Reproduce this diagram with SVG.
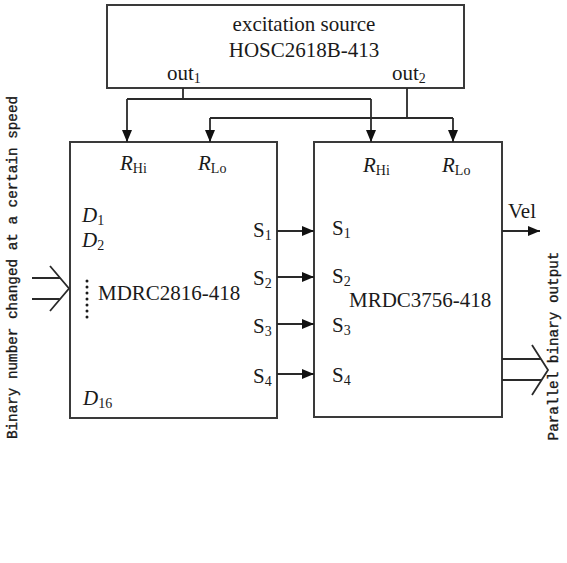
<svg xmlns="http://www.w3.org/2000/svg" width="567" height="563" viewBox="0 0 567 563">
<style>
.box{fill:#fff;stroke:#3a3a3a;stroke-width:2}
.ln{fill:none;stroke:#2a2a2a;stroke-width:1.8}
.t{font-family:"Liberation Serif","Times New Roman",serif;font-size:21px;fill:#1a1a1a}
.i{font-style:italic}
.sub{font-size:14px}
.side{font-family:"Liberation Mono","Courier New",monospace;font-size:14.3px;fill:#1a1a1a;stroke:#1a1a1a;stroke-width:0.35}
</style>
<defs>
<marker id="ah" markerUnits="userSpaceOnUse" markerWidth="13" markerHeight="11" refX="12" refY="5" orient="auto">
<path d="M0,0 L12,5 L0,10 z" fill="#111"/>
</marker>
</defs>
<rect width="567" height="563" fill="#fff"/>
<g id="source">
<rect class="box" x="107" y="5" width="357" height="83"/>
<text class="t" x="304" y="31" text-anchor="middle">excitation source</text>
<text class="t" x="304" y="57" text-anchor="middle">HOSC2618B-413</text>
<text class="t" x="167" y="80">out<tspan class="sub" dy="3">1</tspan></text>
<text class="t" x="392" y="80">out<tspan class="sub" dy="3">2</tspan></text>
</g>
<g id="mdrc">
<rect class="box" x="70" y="142" width="207" height="276"/>
<text class="t" x="120" y="170"><tspan class="i">R</tspan><tspan class="sub" dy="3">Hi</tspan></text>
<text class="t" x="198" y="170"><tspan class="i">R</tspan><tspan class="sub" dy="3">Lo</tspan></text>
<text class="t" x="82" y="222"><tspan class="i">D</tspan><tspan class="sub" dy="3">1</tspan></text>
<text class="t" x="82" y="247"><tspan class="i">D</tspan><tspan class="sub" dy="3">2</tspan></text>
<text class="t" x="83" y="405"><tspan class="i">D</tspan><tspan class="sub" dy="3">16</tspan></text>
<g fill="#1a1a1a">
<circle cx="87" cy="281" r="1.5"/><circle cx="87" cy="287" r="1.5"/><circle cx="87" cy="293" r="1.5"/><circle cx="87" cy="299" r="1.5"/><circle cx="87" cy="305" r="1.5"/><circle cx="87" cy="311" r="1.5"/><circle cx="87" cy="317" r="1.5"/>
</g>
<text class="t" x="98" y="300">MDRC2816-418</text>
<text class="t" x="253" y="237">S<tspan class="sub" dy="3">1</tspan></text>
<text class="t" x="253" y="285">S<tspan class="sub" dy="3">2</tspan></text>
<text class="t" x="253" y="333">S<tspan class="sub" dy="3">3</tspan></text>
<text class="t" x="253" y="383">S<tspan class="sub" dy="3">4</tspan></text>
</g>
<g id="mrdc">
<rect class="box" x="314" y="142" width="188" height="275"/>
<text class="t" x="363" y="172"><tspan class="i">R</tspan><tspan class="sub" dy="3">Hi</tspan></text>
<text class="t" x="442" y="172"><tspan class="i">R</tspan><tspan class="sub" dy="3">Lo</tspan></text>
<text class="t" x="332" y="235">S<tspan class="sub" dy="3">1</tspan></text>
<text class="t" x="332" y="283">S<tspan class="sub" dy="3">2</tspan></text>
<text class="t" x="332" y="332">S<tspan class="sub" dy="3">3</tspan></text>
<text class="t" x="332" y="382">S<tspan class="sub" dy="3">4</tspan></text>
<text class="t" x="349" y="307">MRDC3756-418</text>
<text class="t" x="508" y="218">Vel</text>
</g>
<g id="connectors">
<path class="ln" d="M183,88 V99 M127,99 H371"/>
<path class="ln" d="M127,99 V142" marker-end="url(#ah)"/>
<path class="ln" d="M371,99 V142" marker-end="url(#ah)"/>
<path class="ln" d="M407,88 V118 M210,118 H453"/>
<path class="ln" d="M210,118 V142" marker-end="url(#ah)"/>
<path class="ln" d="M453,118 V142" marker-end="url(#ah)"/>
<path class="ln" d="M277,231 H314" marker-end="url(#ah)"/>
<path class="ln" d="M277,277 H314" marker-end="url(#ah)"/>
<path class="ln" d="M277,324 H314" marker-end="url(#ah)"/>
<path class="ln" d="M277,374 H314" marker-end="url(#ah)"/>
<path class="ln" d="M502,231 H540" marker-end="url(#ah)"/>
<path class="ln" d="M32,278 H60.4 M32,299 H59.5 M50,266 L69,288.5 L50,311"/>
<path class="ln" d="M502,359 H541 M502,380 H541.6 M532,345 L548,370 L532,395"/>
</g>
<g id="side-labels">
<text class="side" transform="translate(17,267.5) rotate(-90)" text-anchor="middle">Binary number changed at a certain speed</text>
<text class="side" transform="translate(558,346) rotate(-90)" text-anchor="middle">Parallel binary output</text>
</g>
</svg>
